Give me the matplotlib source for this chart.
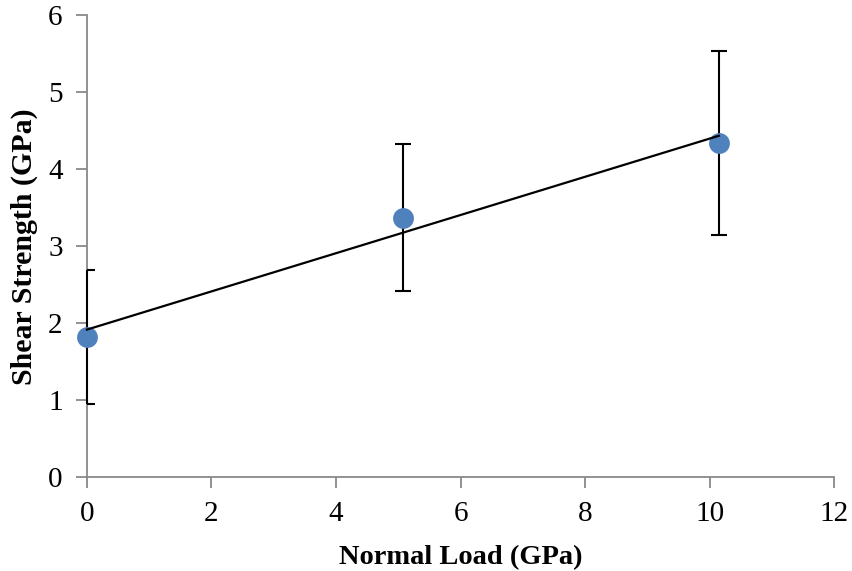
import numpy as np
import matplotlib
matplotlib.use("Agg")
import matplotlib.pyplot as plt

# Measured shear strength versus normal load
normal_load = [0.0, 5.08, 10.15]
shear_strength = [1.82, 3.37, 4.34]
strength_err = [0.87, 0.955, 1.20]

x_ticks = [0, 2, 4, 6, 8, 10, 12]
y_ticks = [0, 1, 2, 3, 4, 5, 6]

plt.rcParams["font.family"] = ["Liberation Serif", "DejaVu Serif"]

fig = plt.figure(figsize=(8.52, 5.71), dpi=100)
ax = fig.add_axes([0.102, 0.1646, 0.877, 0.8083])

# Error bars (vertical lines may overhang the axes; caps stay clipped)
_, caps, bars = ax.errorbar(normal_load, shear_strength, yerr=strength_err,
                            fmt="none", ecolor="black", elinewidth=1.5,
                            capsize=6, capthick=1.5, zorder=3)
for b in bars:
    b.set_clip_on(False)

# Data points
ax.plot(normal_load, shear_strength, "o", color="#4F81BD", markersize=15,
        markeredgewidth=0, zorder=3.5, clip_on=False)

# Linear trend line
slope, intercept = np.polyfit(normal_load, shear_strength, 1)
xs = np.array([min(normal_load), max(normal_load)])
ax.plot(xs, slope * xs + intercept, color="black", linewidth=1.6, zorder=4,
        clip_on=False)

ax.set_xlim(0, 12)
ax.set_ylim(0, 6)
ax.set_xticks(x_ticks)
ax.set_yticks(y_ticks)
ax.set_xticklabels([str(t) for t in x_ticks])
ax.set_yticklabels([str(t) for t in y_ticks])

for side in ("top", "right"):
    ax.spines[side].set_visible(False)
for side in ("left", "bottom"):
    ax.spines[side].set_color("#898989")
    ax.spines[side].set_linewidth(1.3)

ax.tick_params(axis="both", direction="out", length=8, width=1.3,
               color="#898989", labelsize=21, labelcolor="black")
ax.tick_params(axis="x", pad=9.5)
ax.tick_params(axis="y", pad=9.5)

ax.set_xlabel("Normal Load (GPa)", fontsize=20.5, fontweight="bold", labelpad=12.5)
ax.set_ylabel("Shear Strength (GPa)", fontsize=21.5, fontweight="bold", labelpad=7)

fig.savefig("out.png", dpi=100)
